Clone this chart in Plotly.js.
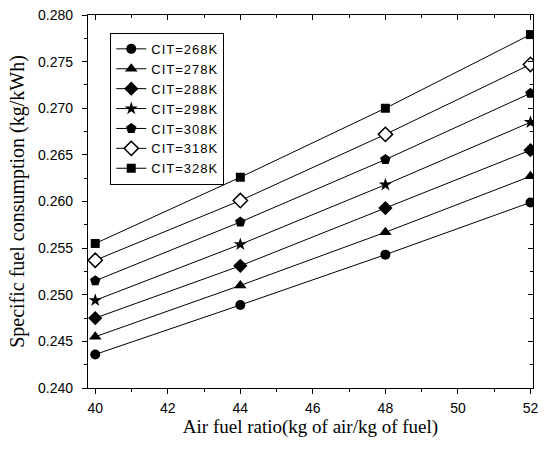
<!DOCTYPE html>
<html>
<head>
<meta charset="utf-8">
<script src="https://cdn.plot.ly/plotly-3.0.1.min.js"></script>
<style>html,body{margin:0;padding:0;background:#fff;}#chart{width:546px;height:449px;}
.legendtext{letter-spacing:1px;}</style>
</head>
<body>
<div id="chart"></div>
<script>
const airFuel = [40, 44, 48, 52];
const seriesNames = ["CIT=268K", "CIT=278K", "CIT=288K", "CIT=298K", "CIT=308K", "CIT=318K", "CIT=328K"];
const cit268 = [0.2436, 0.2489, 0.2543, 0.2599];
const cit278 = [0.2455, 0.2510, 0.2567, 0.2627];
const cit288 = [0.2475, 0.2531, 0.2593, 0.2655];
const cit298 = [0.2494, 0.2554, 0.2618, 0.2685];
const cit308 = [0.2515, 0.2578, 0.2645, 0.2716];
const cit318 = [0.2537, 0.2601, 0.2672, 0.2747];
const cit328 = [0.2555, 0.2626, 0.2700, 0.2779];
const seriesValues = [cit268, cit278, cit288, cit298, cit308, cit318, cit328];
const symbols = ["circle", "triangle-up", "diamond", "star", "pentagon", "diamond", "square"];
const fills = ["#000", "#000", "#000", "#000", "#000", "#fff", "#000"];
const sizes = [10, 11, 11, 10, 11, 11, 9];

const traces = seriesValues.map((vals, i) => ({
  x: airFuel,
  y: vals,
  name: seriesNames[i],
  type: "scatter",
  mode: "lines+markers",
  line: {color: "#000", width: 1},
  marker: {
    symbol: symbols[i],
    size: sizes[i],
    color: fills[i],
    line: {color: "#000", width: fills[i] === "#fff" ? 1.5 : 0}
  },
  xaxis: "x",
  yaxis: "y"
}));

// invisible trace to activate the mirrored axes (inner ticks on top/right)
traces.push({x: [airFuel[0]], y: [cit268[0]], xaxis: "x2", yaxis: "y2", mode: "markers",
  marker: {opacity: 0}, showlegend: false, hoverinfo: "skip"});

const xr = [39.8, 52.07];
const yr = [0.240, 0.280];
const sans = "Liberation Sans, Arial, sans-serif";
const serif = "Liberation Serif, Times New Roman, serif";

const layout = {
  width: 546, height: 449,
  margin: {l: 87.5, r: 13, t: 15, b: 61},
  paper_bgcolor: "#fff", plot_bgcolor: "#fff",
  showlegend: true,
  font: {family: sans, color: "#000", size: 14},
  xaxis: {
    range: xr, tickvals: [40, 42, 44, 46, 48, 50, 52], ticks: "outside", ticklen: 5, tickwidth: 1,
    tickcolor: "#000", showline: true, linecolor: "#000", linewidth: 1.2, showgrid: false, zeroline: false,
    minor: {dtick: 1, tick0: 40, ticks: "outside", ticklen: 3, tickcolor: "#000", showgrid: false},
    tickfont: {family: sans, size: 14}, ticklabelstandoff: 2,
    title: {text: "Air fuel ratio(kg of air/kg of fuel)", font: {family: serif, size: 19}, standoff: 3}
  },
  yaxis: {
    range: yr, dtick: 0.005, tick0: 0.24, tickformat: ".3f", ticks: "outside", ticklen: 5, tickwidth: 1,
    tickcolor: "#000", showline: true, linecolor: "#000", linewidth: 1.2, showgrid: false, zeroline: false,
    minor: {dtick: 0.0025, tick0: 0.24, ticks: "outside", ticklen: 3, tickcolor: "#000", showgrid: false},
    tickfont: {family: sans, size: 14}, ticklabelstandoff: 6,
    title: {text: "Specific fuel consumption (kg/kWh)", font: {family: serif, size: 20}, standoff: 8}
  },
  xaxis2: {
    overlaying: "x", side: "top", range: xr, tickvals: [40, 42, 44, 46, 48, 50, 52], ticks: "inside", ticklen: 5,
    tickcolor: "#000", showticklabels: false, showline: true, linecolor: "#000", linewidth: 1.2, showgrid: false, zeroline: false,
    minor: {dtick: 1, tick0: 40, ticks: "inside", ticklen: 3, tickcolor: "#000", showgrid: false}
  },
  yaxis2: {
    overlaying: "y", side: "right", anchor: "x2", range: yr, dtick: 0.005, tick0: 0.24, ticks: "inside", ticklen: 5,
    tickcolor: "#000", showticklabels: false, showline: true, linecolor: "#000", linewidth: 1.2, showgrid: false, zeroline: false,
    minor: {dtick: 0.0025, tick0: 0.24, ticks: "inside", ticklen: 3, tickcolor: "#000", showgrid: false}
  },
  legend: {
    x: 0.05, y: 0.952, xanchor: "left", yanchor: "top",
    bgcolor: "#fff", bordercolor: "#000", borderwidth: 1,
    font: {family: sans, size: 13, color: "#000"},
    tracegroupgap: 0, itemwidth: 30
  }
};

Plotly.newPlot("chart", traces, layout, {displayModeBar: false, staticPlot: true});
</script>
</body>
</html>
